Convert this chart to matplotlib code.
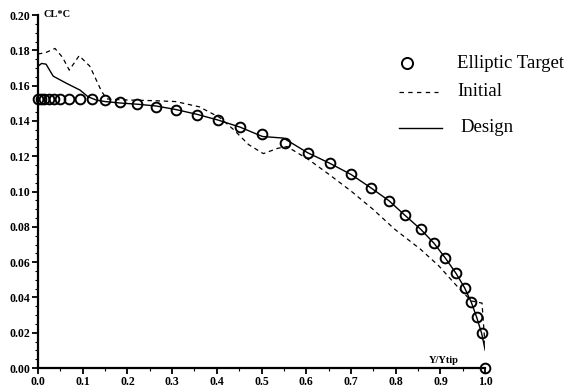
import matplotlib
matplotlib.use("Agg")
import matplotlib.pyplot as plt
from matplotlib.ticker import MultipleLocator, FormatStrFormatter

# Elliptic target (circles)
target_x = [0.0, 0.006, 0.014, 0.024, 0.035, 0.049, 0.069, 0.094, 0.121, 0.150, 0.183,
            0.222, 0.264, 0.308, 0.355, 0.403, 0.452, 0.502, 0.553, 0.603, 0.652, 0.700,
            0.744, 0.785, 0.820, 0.856, 0.886, 0.911, 0.935, 0.954, 0.969, 0.981, 0.992, 1.0]
target_cl = [0.1526, 0.1526, 0.1526, 0.1526, 0.1526, 0.1525, 0.1525, 0.1524, 0.1524, 0.1520,
             0.1509, 0.1498, 0.1479, 0.1460, 0.1434, 0.1405, 0.1368, 0.1325, 0.1274, 0.1221,
             0.1161, 0.1097, 0.1022, 0.0948, 0.0867, 0.0786, 0.0706, 0.0623, 0.0536, 0.0455,
             0.0373, 0.0288, 0.0198, 0.0]

# Initial (dashed)
initial_x = [0.0, 0.016, 0.038, 0.055, 0.070, 0.092, 0.116, 0.1425, 0.154, 0.185, 0.259,
             0.308, 0.361, 0.406, 0.438, 0.471, 0.504, 0.536, 0.557, 0.606, 0.651, 0.700,
             0.749, 0.798, 0.855, 0.896, 0.936, 0.969, 0.993, 1.0]
initial_cl = [0.178, 0.1786, 0.1811, 0.176, 0.1688, 0.177, 0.171, 0.1566, 0.1525, 0.152,
              0.1515, 0.151, 0.148, 0.142, 0.135, 0.1266, 0.1215, 0.1245, 0.1255, 0.118,
              0.1097, 0.1003, 0.090, 0.0786, 0.0674, 0.058, 0.0467, 0.038, 0.0368, 0.012]

# Design (solid)
design_x = [0.0, 0.008, 0.018, 0.034, 0.064, 0.094, 0.112, 0.131, 0.150, 0.183, 0.222,
            0.264, 0.308, 0.355, 0.403, 0.452, 0.502, 0.549, 0.603, 0.652, 0.700, 0.744,
            0.785, 0.820, 0.856, 0.886, 0.911, 0.935, 0.954, 0.969, 0.981, 0.992, 1.0]
design_cl = [0.171, 0.1726, 0.1722, 0.1654, 0.1613, 0.1575, 0.1537, 0.1518, 0.151, 0.1502,
             0.1495, 0.1485, 0.1465, 0.1438, 0.1405, 0.1365, 0.1312, 0.1303, 0.122, 0.1161,
             0.1097, 0.1022, 0.0948, 0.0867, 0.0786, 0.0706, 0.0623, 0.0536, 0.0455, 0.0373,
             0.0288, 0.0198, 0.0102]

plt.rcParams['font.family'] = ['Liberation Serif', 'DejaVu Serif']

fig = plt.figure(figsize=(5.74, 3.87), dpi=100)
ax = fig.add_axes([0.0662, 0.049, 0.779, 0.912])

ax.plot(initial_x, initial_cl, color='black', lw=0.9, dashes=(3.5, 3))
ax.plot(design_x, design_cl, color='black', lw=1.0)
ax.plot(target_x, target_cl, linestyle='none', marker='o', ms=7, mfc='none',
        mec='black', mew=1.4, clip_on=False)

ax.set_xlim(0, 1.0)
ax.set_ylim(0, 0.20)
for s in ['top', 'right']:
    ax.spines[s].set_visible(False)
for s in ['left', 'bottom']:
    ax.spines[s].set_linewidth(1.6)

ax.xaxis.set_major_locator(MultipleLocator(0.1))
ax.xaxis.set_minor_locator(MultipleLocator(0.05))
ax.yaxis.set_major_locator(MultipleLocator(0.02))
ax.yaxis.set_minor_locator(MultipleLocator(0.005))
ax.xaxis.set_major_formatter(FormatStrFormatter('%.1f'))
ax.yaxis.set_major_formatter(FormatStrFormatter('%.2f'))
ax.tick_params(axis='both', which='major', direction='out', length=4, width=1.3,
               labelsize=8.5, pad=1.5)
ax.tick_params(axis='both', which='minor', direction='out', length=2, width=0.8)
for lab in ax.get_xticklabels() + ax.get_yticklabels():
    lab.set_fontweight('bold')

ax.text(0.012, 0.2005, 'CL*C', fontsize=7.5, fontweight='bold', va='center', ha='left')
ax.text(0.908, 0.0045, 'Y/Ytip', fontsize=7.5, fontweight='bold', va='center', ha='center')

# Legend (manual, in figure pixel fractions)
W, H = 574.0, 387.0
fig.lines.append(plt.Line2D([406.7 / W], [1 - 63.3 / H], marker='o', ms=8, mfc='none',
                            mec='black', mew=1.4, transform=fig.transFigure))
fig.text(457 / W, 1 - 63 / H, 'Elliptic Target', fontsize=13.5, va='center', ha='left')
fig.lines.append(plt.Line2D([399 / W, 438 / W], [1 - 92 / H, 1 - 92 / H], color='black',
                            lw=0.9, dashes=(3.5, 3.5), transform=fig.transFigure))
fig.text(457 / W, 1 - 91 / H, 'Initial', fontsize=13.5, va='center', ha='left')
fig.lines.append(plt.Line2D([399 / W, 442 / W], [1 - 128 / H, 1 - 128 / H], color='black',
                            lw=1.0, transform=fig.transFigure))
fig.text(460 / W, 1 - 127 / H, 'Design', fontsize=13.5, va='center', ha='left')

fig.savefig('out.png', dpi=100)
